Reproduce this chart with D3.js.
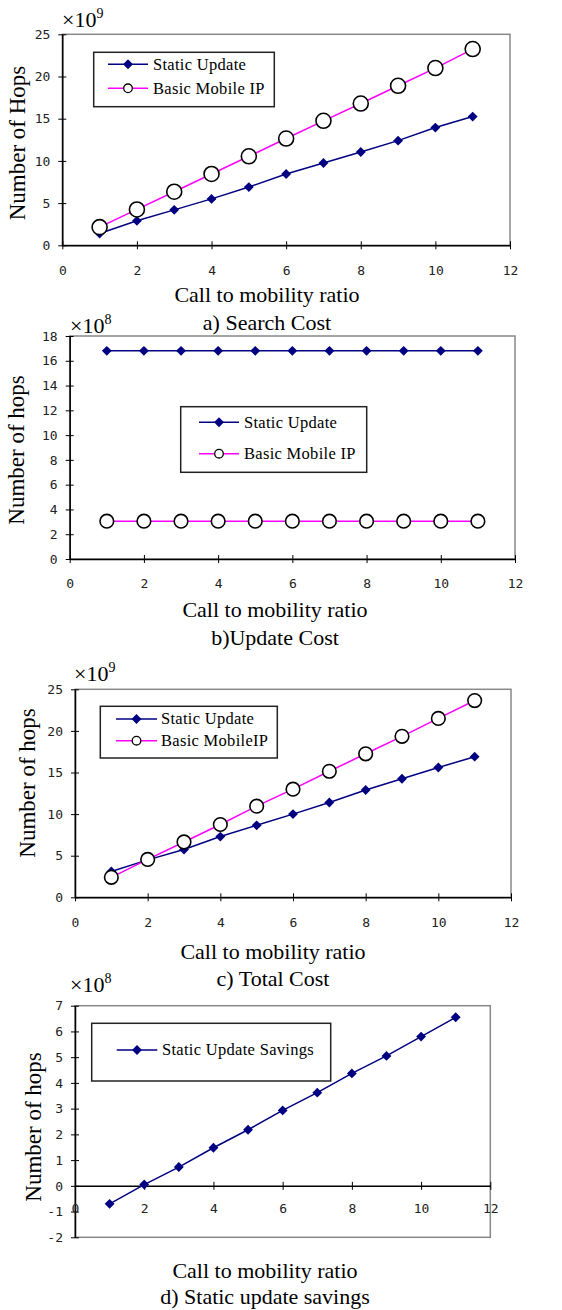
<!DOCTYPE html>
<html>
<head>
<meta charset="utf-8">
<script src="https://cdn.jsdelivr.net/npm/d3@7"></script>
<style>
  body { margin: 0; background: #fff; }
  svg { display: block; }
  .tick text { font-family: 'DejaVu Sans Mono', monospace; font-size: 13px; fill: #222; }
  .serif { font-family: 'Liberation Serif', 'Times New Roman', serif; fill: #000; }
</style>
</head>
<body>
<svg id="chart" width="562" height="1310"></svg>
<script>
// x values shared by every panel
const ratio = [1, 2, 3, 4, 5, 6, 7, 8, 9, 10, 11];
const xTicks = [0, 2, 4, 6, 8, 10, 12];

// a) search cost, x10^9
const searchStatic = [1.4, 2.9, 4.2, 5.5, 6.9, 8.45, 9.75, 11.05, 12.4, 13.95, 15.25];
const searchBasic = [2.15, 4.25, 6.35, 8.45, 10.55, 12.65, 14.75, 16.8, 18.9, 21.0, 23.25];

// b) update cost, x10^8
const updateStatic = [16.8, 16.8, 16.8, 16.8, 16.8, 16.8, 16.8, 16.8, 16.8, 16.8, 16.8];
const updateBasic = [3.05, 3.05, 3.05, 3.05, 3.05, 3.05, 3.05, 3.05, 3.05, 3.05, 3.05];

// c) total cost, x10^9
const totalStatic = [3.1, 4.5, 5.75, 7.3, 8.65, 10.0, 11.4, 12.9, 14.25, 15.6, 16.9];
const totalBasic = [2.4, 4.55, 6.65, 8.75, 10.95, 13.0, 15.15, 17.25, 19.35, 21.5, 23.65];

// d) static update savings, x10^8
const savings = [-0.7, 0.05, 0.73, 1.48, 2.18, 2.93, 3.62, 4.37, 5.05, 5.8, 6.55];

const NAVY = '#000080';
const PINK = '#ff00ff';

const svg = d3.select('#chart');
const plain = d => String(d); // keep ascii hyphen for negatives

function drawPanel(p) {
  const g = svg.append('g');
  const x = d3.scaleLinear().domain([0, 12]).range([p.left, p.right]);
  const y = d3.scaleLinear().domain(p.yDomain).range([p.bottom, p.top]);

  // frame: grey top/right (and bottom), black left axis
  g.append('rect')
    .attr('x', p.left).attr('y', p.top)
    .attr('width', p.right - p.left).attr('height', p.bottom - p.top)
    .attr('fill', 'none').attr('stroke', '#888').attr('stroke-width', 1.5);

  const yAxis = g.append('g')
    .attr('transform', `translate(${p.left},0)`)
    .call(d3.axisLeft(y).tickValues(p.yTicks).tickFormat(plain)
      .tickSizeInner(4).tickSizeOuter(0).tickPadding(8));
  yAxis.selectAll('.tick line').attr('x2', 4).attr('x1', -4);

  const x0 = y(0);
  const xAxis = g.append('g')
    .attr('transform', `translate(0,${x0})`)
    .call(d3.axisBottom(x).tickValues(xTicks).tickFormat(plain)
      .tickSizeInner(4).tickSizeOuter(0).tickPadding(p.xPad));
  xAxis.selectAll('.tick line').attr('y1', -4).attr('y2', 4);
  [yAxis, xAxis].forEach(a => {
    a.select('.domain').attr('stroke', '#000').attr('stroke-width', 1.5);
    a.selectAll('.tick line').attr('stroke', '#000').attr('stroke-width', 1);
  });

  const line = d3.line().x((d, i) => x(ratio[i])).y(d => y(d));

  p.series.forEach(s => {
    g.append('path')
      .datum(s.values)
      .attr('d', line)
      .attr('fill', 'none')
      .attr('stroke', s.color)
      .attr('stroke-width', 1.5);
    if (s.marker === 'diamond') {
      g.selectAll(null).data(s.values).enter().append('path')
        .attr('d', d3.symbol(d3.symbolDiamond2, 62))
        .attr('transform', (d, i) => `translate(${x(ratio[i])},${y(d)})`)
        .attr('fill', NAVY);
    } else {
      g.selectAll(null).data(s.values).enter().append('circle')
        .attr('cx', (d, i) => x(ratio[i]))
        .attr('cy', d => y(d))
        .attr('r', p.circleR)
        .attr('fill', '#fff')
        .attr('stroke', '#000')
        .attr('stroke-width', 1.6);
    }
  });

  // legend
  const lg = p.legend;
  g.append('rect')
    .attr('x', lg.x1).attr('y', lg.y1)
    .attr('width', lg.x2 - lg.x1).attr('height', lg.y2 - lg.y1)
    .attr('fill', '#fff').attr('stroke', '#222').attr('stroke-width', 1.5);
  p.series.forEach((s, i) => {
    const ly = lg.rows[i];
    g.append('line')
      .attr('x1', lg.lx1).attr('x2', lg.lx2).attr('y1', ly).attr('y2', ly)
      .attr('stroke', s.color).attr('stroke-width', 1.5);
    const mx = (lg.lx1 + lg.lx2) / 2;
    if (s.marker === 'diamond') {
      g.append('path')
        .attr('d', d3.symbol(d3.symbolDiamond2, 62))
        .attr('transform', `translate(${mx},${ly})`)
        .attr('fill', NAVY);
    } else {
      g.append('circle')
        .attr('cx', mx).attr('cy', ly).attr('r', 4.3)
        .attr('fill', '#fff').attr('stroke', '#000').attr('stroke-width', 1.3);
    }
    g.append('text')
      .attr('class', 'serif')
      .attr('x', lg.tx).attr('y', ly)
      .attr('dy', '0.33em')
      .style('font-size', '16.5px')
      .style('letter-spacing', '0.3px')
      .text(s.name);
  });

  // exponent
  const ex = g.append('text').attr('class', 'serif')
    .attr('x', p.exp[0]).attr('y', p.exp[1])
    .style('font-size', '22px');
  ex.append('tspan').text('×10');
  ex.append('tspan').attr('dy', -9).style('font-size', '14px').text(p.power);

  g.append('text').attr('class', 'serif')
    .attr('transform', `translate(${p.yLabel[0]},${p.yLabel[1]}) rotate(-90)`)
    .attr('text-anchor', 'middle')
    .attr('dy', '0.35em')
    .style('font-size', '23px')
    .text(p.yTitle);

  g.append('text').attr('class', 'serif')
    .attr('x', p.xTitle[0]).attr('y', p.xTitle[1])
    .attr('text-anchor', 'middle')
    .style('font-size', '22px')
    .text('Call to mobility ratio');

  g.append('text').attr('class', 'serif')
    .attr('x', p.caption[0]).attr('y', p.caption[1])
    .attr('text-anchor', 'middle')
    .style('font-size', '22px')
    .text(p.captionText);
}

drawPanel({
  left: 62.3, right: 510, top: 34.3, bottom: 245.3,
  yDomain: [0, 25], yTicks: [0, 5, 10, 15, 20, 25], xPad: 16,
  circleR: 7.5,
  series: [
    { name: 'Static Update', values: searchStatic, color: NAVY, marker: 'diamond' },
    { name: 'Basic Mobile IP', values: searchBasic, color: PINK, marker: 'circle' },
  ],
  legend: { x1: 93.7, x2: 274.3, y1: 52.3, y2: 106.7, lx1: 108, lx2: 148, tx: 153, rows: [64.3, 88.3] },
  exp: [62, 27], power: '9',
  yLabel: [17, 143], yTitle: 'Number of Hops',
  xTitle: [267, 302], caption: [267, 330], captionText: 'a) Search Cost',
});

drawPanel({
  left: 69.7, right: 515, top: 336, bottom: 559,
  yDomain: [0, 18], yTicks: [0, 2, 4, 6, 8, 10, 12, 14, 16, 18], xPad: 16,
  circleR: 6.8,
  series: [
    { name: 'Static Update', values: updateStatic, color: NAVY, marker: 'diamond' },
    { name: 'Basic Mobile IP', values: updateBasic, color: PINK, marker: 'circle' },
  ],
  legend: { x1: 180.7, x2: 366.7, y1: 406.7, y2: 472.3, lx1: 199, lx2: 239, tx: 244, rows: [422.3, 453.7] },
  exp: [70, 333], power: '8',
  yLabel: [16, 450], yTitle: 'Number of hops',
  xTitle: [275, 617], caption: [275, 645], captionText: 'b)Update Cost',
});

drawPanel({
  left: 75, right: 511, top: 689.3, bottom: 897.3,
  yDomain: [0, 25], yTicks: [0, 5, 10, 15, 20, 25], xPad: 16,
  circleR: 6.8,
  series: [
    { name: 'Static Update', values: totalStatic, color: NAVY, marker: 'diamond' },
    { name: 'Basic MobileIP', values: totalBasic, color: PINK, marker: 'circle' },
  ],
  legend: { x1: 100.3, x2: 277.3, y1: 706.3, y2: 758, lx1: 116, lx2: 157, tx: 161, rows: [719, 740.7] },
  exp: [74, 681], power: '9',
  yLabel: [27, 783], yTitle: 'Number of hops',
  xTitle: [273, 959], caption: [273, 986], captionText: 'c) Total Cost',
});

drawPanel({
  left: 75, right: 490.3, top: 1005.7, bottom: 1237.3,
  yDomain: [-2, 7], yTicks: [-2, -1, 0, 1, 2, 3, 4, 5, 6, 7], xPad: 14,
  circleR: 6.8,
  series: [
    { name: 'Static Update Savings', values: savings, color: NAVY, marker: 'diamond' },
  ],
  legend: { x1: 91.7, x2: 330.7, y1: 1023.3, y2: 1081, lx1: 116.7, lx2: 157.3, tx: 162, rows: [1050] },
  exp: [70, 992], power: '8',
  yLabel: [33, 1127], yTitle: 'Number of hops',
  xTitle: [265, 1278], caption: [265, 1304], captionText: 'd) Static update savings',
});
</script>
</body>
</html>
